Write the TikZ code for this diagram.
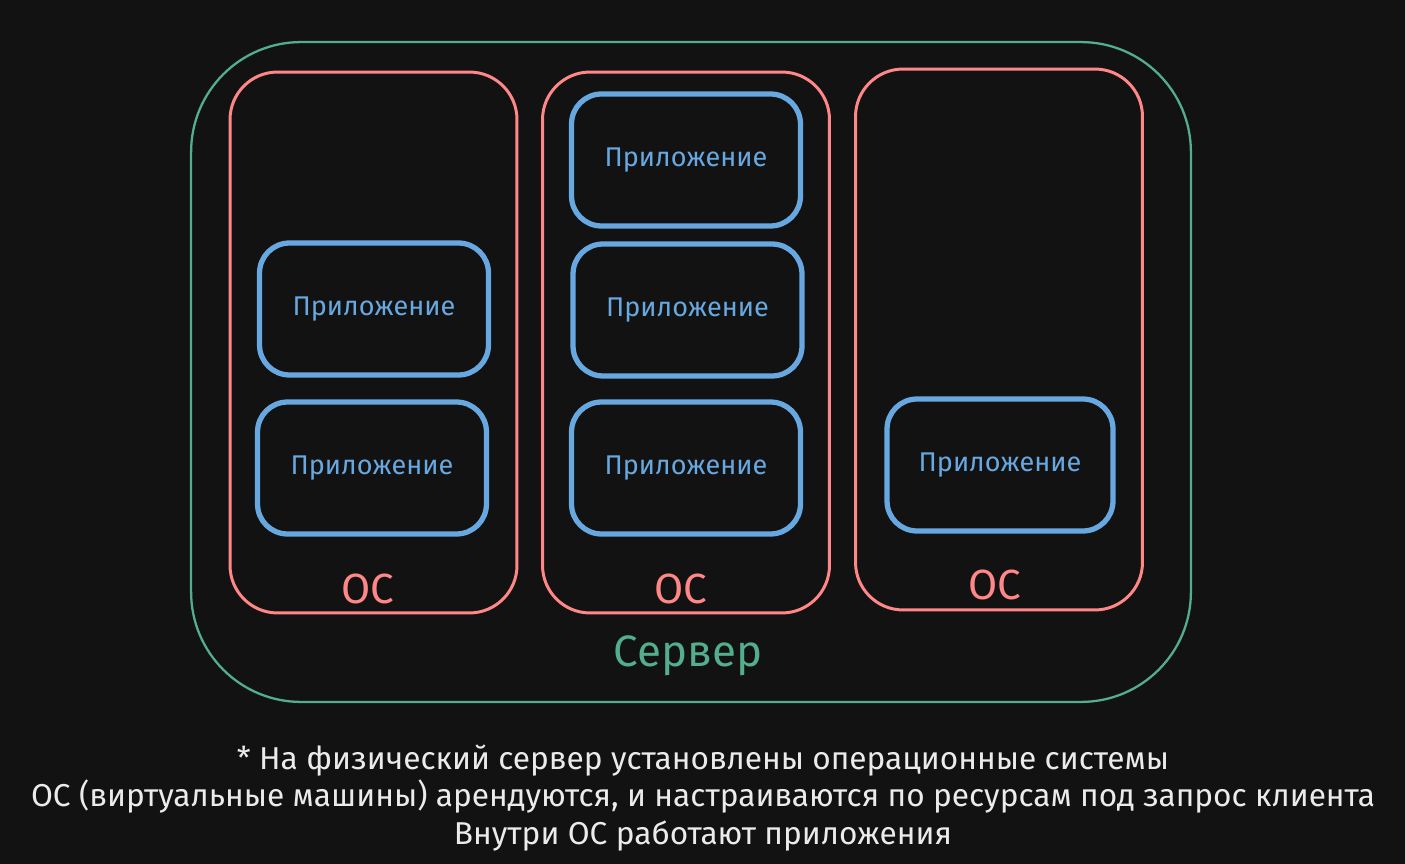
\documentclass[tikz,border=0pt]{standalone}
\usepackage{fontspec}
\setmainfont{Fira Sans}
\usepackage{tikz}
\usetikzlibrary{positioning}
\definecolor{BgDark}{RGB}{18,18,18}
\definecolor{SrvGreen}{RGB}{82,174,140}
\definecolor{OsRed}{RGB}{255,135,135}
\definecolor{AppBlue}{RGB}{104,168,224}
\definecolor{NoteWhite}{RGB}{235,235,235}

\tikzset{
	srvbox/.style={draw=SrvGreen, line width=1.3pt, rounded corners=2.2cm, minimum width=20cm, minimum height=13.2cm, inner sep=0pt},
	osbox/.style={draw=OsRed, line width=1.7pt, rounded corners=0.95cm, minimum width=5.74cm, minimum height=10.82cm, inner sep=0pt},
	appbox/.style={draw=AppBlue, line width=3pt, rounded corners=0.6cm, minimum width=4.58cm, minimum height=2.64cm, inner sep=0pt, text=AppBlue, font=\fontsize{15.4}{18}\selectfont},
	oslabel/.style={text=OsRed, font=\fontsize{24}{28}\selectfont, inner sep=0pt},
	srvlabel/.style={text=SrvGreen, font=\fontsize{25}{29}\selectfont, inner sep=0pt},
	notetext/.style={text=NoteWhite, align=center, font=\fontsize{18}{21.5}\selectfont, inner sep=0pt}
}

\begin{document}
\begin{tikzpicture}[x=0.02cm, y=-0.02cm]

	\fill[BgDark] (0,0) rectangle (1405,864);
	\useasboundingbox (0,0) rectangle (1405,864);

	% server
	\node[srvbox] (srv) at (691,372) {};
	\node[srvlabel] (srvlbl) at (688,656) {Сервер};

	% operating systems
	\node[osbox] (os1) at (373.5,342.5) {};
	\node[osbox] (os2) at (686,342.5) {};
	\node[osbox] (os3) at (999,339.5) {};
	\node[oslabel] (os1lbl) at (368,589) {ОС};
	\node[oslabel] (os2lbl) at (681,589) {ОС};
	\node[oslabel] (os3lbl) at (995,585) {ОС};

	% applications
	\node[appbox] (app11) at (374,309) {Приложение};
	\node[appbox] (app12) at (372,468) {Приложение};
	\node[appbox] (app21) at (686,160) {Приложение};
	\node[appbox] (app22) at (687.5,310) {Приложение};
	\node[appbox] (app23) at (686,468) {Приложение};
	\node[appbox, minimum width=4.52cm] (app31) at (1000,465) {Приложение};

	\node[notetext] (note) at (703,798) {* На физический сервер установлены операционные системы\\ОС (виртуальные машины) арендуются, и настраиваются по ресурсам под запрос клиента\\Внутри ОС работают приложения};

\end{tikzpicture}
\end{document}
